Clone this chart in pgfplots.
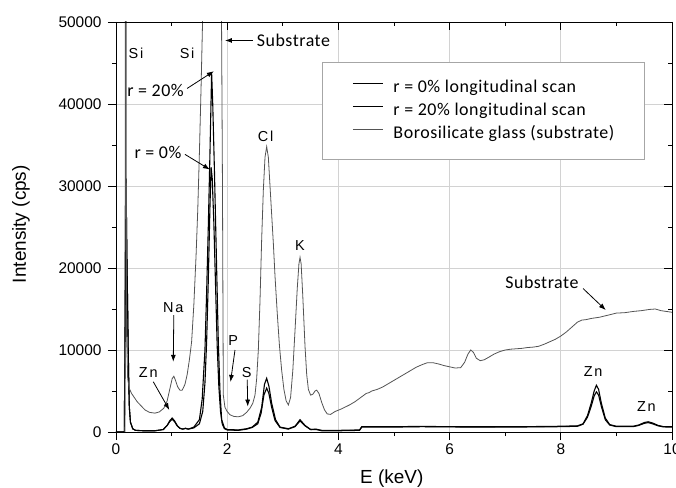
\documentclass[border=0pt]{standalone}
\usepackage{pgfplots}
\pgfplotsset{compat=1.18}
\usepackage{fontspec}
\setmainfont{Liberation Sans}
\newfontfamily\calib[LetterSpace=3]{Carlito}
\newfontfamily\elem[LetterSpace=12]{Liberation Sans}
\usetikzlibrary{arrows.meta}

\begin{document}
\begin{tikzpicture}[
    arr/.style={-{Latex[length=7bp,width=5bp]}, line width=0.8bp, black},
    el/.style={font=\elem\fontsize{14.5}{14.5}\selectfont},
    cb/.style={font=\calib\fontsize{18}{18}\selectfont},
]
\path[use as bounding box] (-116bp,-56bp) rectangle (560bp,432bp);
\begin{axis}[
    at={(0,0)}, anchor=south west, scale only axis,
    width=556bp, height=410bp,
    xmin=0, xmax=10, ymin=0, ymax=50000,
    xtick={0,2,...,10}, ytick={0,10000,...,50000},
    minor x tick num=1, minor y tick num=1,
    xtick pos=bottom, ytick pos=left, tick align=outside,
    major tick length=8bp, minor tick length=4bp,
    tick style={black, line width=0.8bp},
    grid=major, major grid style={gray!35, line width=0.8bp},
    axis line style={line width=0.9bp},
    scaled y ticks=false,
    /pgf/number format/1000 sep={},
    /pgf/number format/assume math mode=true,
    tick label style={font=\fontsize{15.5}{15.5}\selectfont},
    yticklabel style={xshift=-3bp},
    xlabel={E (keV)}, ylabel={Intensity (cps)},
    label style={font=\fontsize{19}{19}\selectfont},
    xlabel style={at={(axis description cs:0.496,-0.113)}, anchor=center},
    ylabel style={at={(axis description cs:-0.171,0.507)}, anchor=center},
    legend cell align=left,
    legend style={at={(axis description cs:0.3705,0.902)}, anchor=north west,
        draw=gray!70, line width=0.8bp, inner xsep=30bp, inner ysep=17bp,
        row sep=6bp, column sep=10bp, font=\calib\fontsize{18}{18}\selectfont,
        nodes={inner sep=0pt, text height=13bp, text depth=4bp}},
    legend image code/.code={\draw[#1] (0bp,5bp) -- (30bp,5bp);},
]

% r = 0%
\addplot[black, line width=1.1bp] coordinates {
(0,0)(0.15,0)(0.17,20000)(0.18,30900)(0.195,22000)(0.21,15000)(0.22,10000)(0.23,6000)
(0.24,3000)(0.26,1200)(0.3,400)(0.35,200)(0.5,150)(0.7,150)(0.85,300)(0.92,800)
(0.97,1300)(1.01,1550)(1.05,1300)(1.1,750)(1.15,450)(1.2,350)(1.25,450)(1.3,350)
(1.4,500)(1.5,1000)(1.56,2500)(1.6,6000)(1.63,11000)(1.66,18500)(1.69,27500)(1.71,32300)
(1.73,31000)(1.76,25500)(1.79,18000)(1.82,10500)(1.85,5500)(1.88,2500)(1.91,1000)(1.95,400)
(2.0,250)(2.2,200)(2.35,350)(2.45,550)(2.55,1000)(2.61,2300)(2.66,4500)(2.71,5350)
(2.75,4700)(2.8,3000)(2.86,1400)(2.95,550)(3.1,350)(3.22,650)(3.31,1350)(3.4,750)
(3.5,300)(3.6,300)(3.7,150)(4.0,150)(4.38,200)(4.42,600)(5.0,600)(5.5,650)(6.0,620)
(6.5,600)(7.0,600)(7.5,620)(8.0,650)(8.3,700)(8.4,950)(8.48,1800)(8.55,3200)(8.6,4400)
(8.64,4900)(8.68,4500)(8.73,3100)(8.8,1500)(8.88,850)(9.0,650)(9.3,650)(9.4,800)
(9.5,1050)(9.57,1150)(9.65,1000)(9.75,750)(9.85,620)(10.0,600)
};
\addlegendentry{r = 0\% longitudinal scan}

% r = 20%
\addplot[black, line width=1.1bp] coordinates {
(0,0)(0.15,0)(0.17,20000)(0.18,30900)(0.195,22000)(0.21,15000)(0.22,10000)(0.23,6000)
(0.24,3000)(0.26,1200)(0.3,400)(0.35,200)(0.5,150)(0.7,150)(0.85,300)(0.92,800)
(0.97,1400)(1.01,1700)(1.05,1400)(1.1,800)(1.15,450)(1.2,350)(1.25,450)(1.3,350)
(1.4,600)(1.5,1500)(1.55,4000)(1.6,10000)(1.63,17000)(1.66,25000)(1.69,34000)(1.72,43800)
(1.74,40000)(1.77,32000)(1.81,20000)(1.84,11000)(1.87,5000)(1.9,1500)(1.95,500)
(2.0,300)(2.2,250)(2.35,400)(2.45,600)(2.55,1200)(2.62,3000)(2.67,5800)(2.71,6550)
(2.75,5600)(2.8,3500)(2.87,1500)(2.95,600)(3.1,400)(3.22,700)(3.31,1500)(3.4,800)
(3.5,300)(3.6,350)(3.7,200)(4.0,200)(4.38,250)(4.42,650)(5.0,650)(5.5,680)(6.0,650)
(6.5,640)(7.0,650)(7.5,660)(8.0,700)(8.3,750)(8.4,1000)(8.48,2000)(8.55,3600)(8.6,5000)
(8.64,5700)(8.68,5200)(8.73,3500)(8.8,1700)(8.88,900)(9.0,700)(9.3,700)(9.4,850)
(9.5,1150)(9.57,1250)(9.65,1100)(9.75,800)(9.85,650)(10.0,650)
};
\addlegendentry{r = 20\% longitudinal scan}

% borosilicate glass substrate
\addplot[gray!65!black, line width=0.8bp] coordinates {
(0.16,0)(0.17,60000)(0.18,60000)(0.19,12000)(0.21,6500)(0.24,5300)(0.28,4700)(0.33,4200)
(0.38,3700)(0.45,3200)(0.52,2700)(0.6,2400)(0.7,2300)(0.78,2450)(0.86,2900)(0.92,3800)
(0.97,5300)(1.01,6500)(1.04,6800)(1.07,6300)(1.11,5500)(1.15,5100)(1.19,5100)(1.24,5800)
(1.28,7000)(1.32,8800)(1.36,11000)(1.40,15500)(1.44,21500)(1.47,27000)(1.50,34000)
(1.53,42000)(1.56,51000)(1.6,60000)(1.89,60000)(1.915,30000)(1.93,4500)(1.96,3000)
(2.0,2500)(2.05,2100)(2.12,1900)(2.2,1850)(2.28,2000)(2.35,2400)(2.41,2900)(2.46,3500)
(2.5,4500)(2.53,6500)(2.56,10000)(2.59,16000)(2.62,23500)(2.65,29500)(2.68,33500)
(2.71,34800)(2.74,33500)(2.77,30000)(2.8,26500)(2.83,23000)(2.86,19000)(2.9,14500)
(2.94,10500)(2.98,7500)(3.02,5200)(3.06,3800)(3.1,3300)(3.14,4200)(3.18,7500)(3.22,12400)
(3.26,17500)(3.29,20500)(3.31,21300)(3.33,20500)(3.36,16500)(3.4,10400)(3.43,7000)
(3.46,5200)(3.5,4500)(3.54,4600)(3.58,5000)(3.61,5100)(3.65,4700)(3.7,3600)(3.75,2700)
(3.8,2200)(3.86,2150)(3.94,2500)(4.05,2800)(4.2,3300)(4.3,3700)(4.4,4200)(4.5,4700)
(4.55,4800)(4.6,5000)(4.7,5200)(4.8,5500)(4.9,5900)(5.0,6300)(5.1,6700)(5.2,7100)
(5.3,7500)(5.4,7900)(5.5,8200)(5.6,8450)(5.7,8450)(5.8,8300)(5.9,8100)(6.0,7950)
(6.1,7800)(6.2,7850)(6.27,8500)(6.33,9500)(6.38,10000)(6.43,9700)(6.48,9000)(6.55,8700)
(6.62,8800)(6.7,9100)(6.8,9500)(6.9,9800)(7.0,10000)(7.1,10100)(7.2,10150)(7.3,10200)
(7.4,10300)(7.5,10350)(7.6,10450)(7.7,10700)(7.8,11000)(7.9,11300)(8.0,11700)(8.1,12200)
(8.2,12800)(8.3,13400)(8.38,13650)(8.45,13700)(8.55,13850)(8.7,14000)(8.85,14250)
(9.0,14500)(9.15,14550)(9.3,14700)(9.45,14800)(9.6,14950)(9.7,15000)(9.8,14800)
(9.9,14700)(10.0,14600)
};
\addlegendentry{Borosilicate glass (substrate)}

% element labels
\node[el] at (axis cs:0.36,46200) {Si};
\node[el] at (axis cs:1.28,46200) {Si};
\node[el] at (axis cs:2.69,36100) {Cl};
\node[el] at (axis cs:3.31,22800) {K};
\node[el] at (axis cs:1.03,15200) {Na};
\draw[arr] (axis cs:1.04,14250) -- (axis cs:1.03,8560);
\node[el] at (axis cs:0.58,7200) {Zn};
\draw[arr] (axis cs:0.67,6130) -- (axis cs:0.96,2680);
\node[el] at (axis cs:2.11,11200) {P};
\draw[arr] (axis cs:2.14,10000) -- (axis cs:2.06,6100);
\node[el] at (axis cs:2.35,7200) {S};
\draw[arr] (axis cs:2.36,6400) -- (axis cs:2.37,3100);
\node[el] at (axis cs:8.58,7350) {Zn};
\node[el] at (axis cs:9.54,3050) {Zn};

% annotations
\node[cb, anchor=west, inner sep=0pt] at (axis cs:2.53,47750) {Substrate};
\draw[arr] (axis cs:2.46,47750) -- (axis cs:1.96,47750);
\node[cb] at (axis cs:0.71,41650) {r = 20\%};
\draw[arr] (axis cs:1.28,41900) -- (axis cs:1.76,44000);
\node[cb] at (axis cs:0.755,34150) {r = 0\%};
\draw[arr] (axis cs:1.24,33860) -- (axis cs:1.69,32000);
\node[cb] at (axis cs:7.66,18300) {Substrate};
\draw[arr] (axis cs:8.4,17500) -- (axis cs:8.81,14860);
\end{axis}

% mirrored ticks on top and right, pointing inward
\begin{axis}[
    at={(0,0)}, anchor=south west, scale only axis,
    width=556bp, height=410bp,
    xmin=0, xmax=10, ymin=0, ymax=50000,
    xtick={0,2,...,10}, ytick={0,10000,...,50000},
    minor x tick num=1, minor y tick num=1,
    xtick pos=top, ytick pos=right, tick align=inside,
    major tick length=8bp, minor tick length=4bp,
    tick style={black, line width=0.8bp},
    axis line style={line width=0.9bp},
    scaled y ticks=false,
    xticklabels={}, yticklabels={},
]
\end{axis}
\end{tikzpicture}
\end{document}
